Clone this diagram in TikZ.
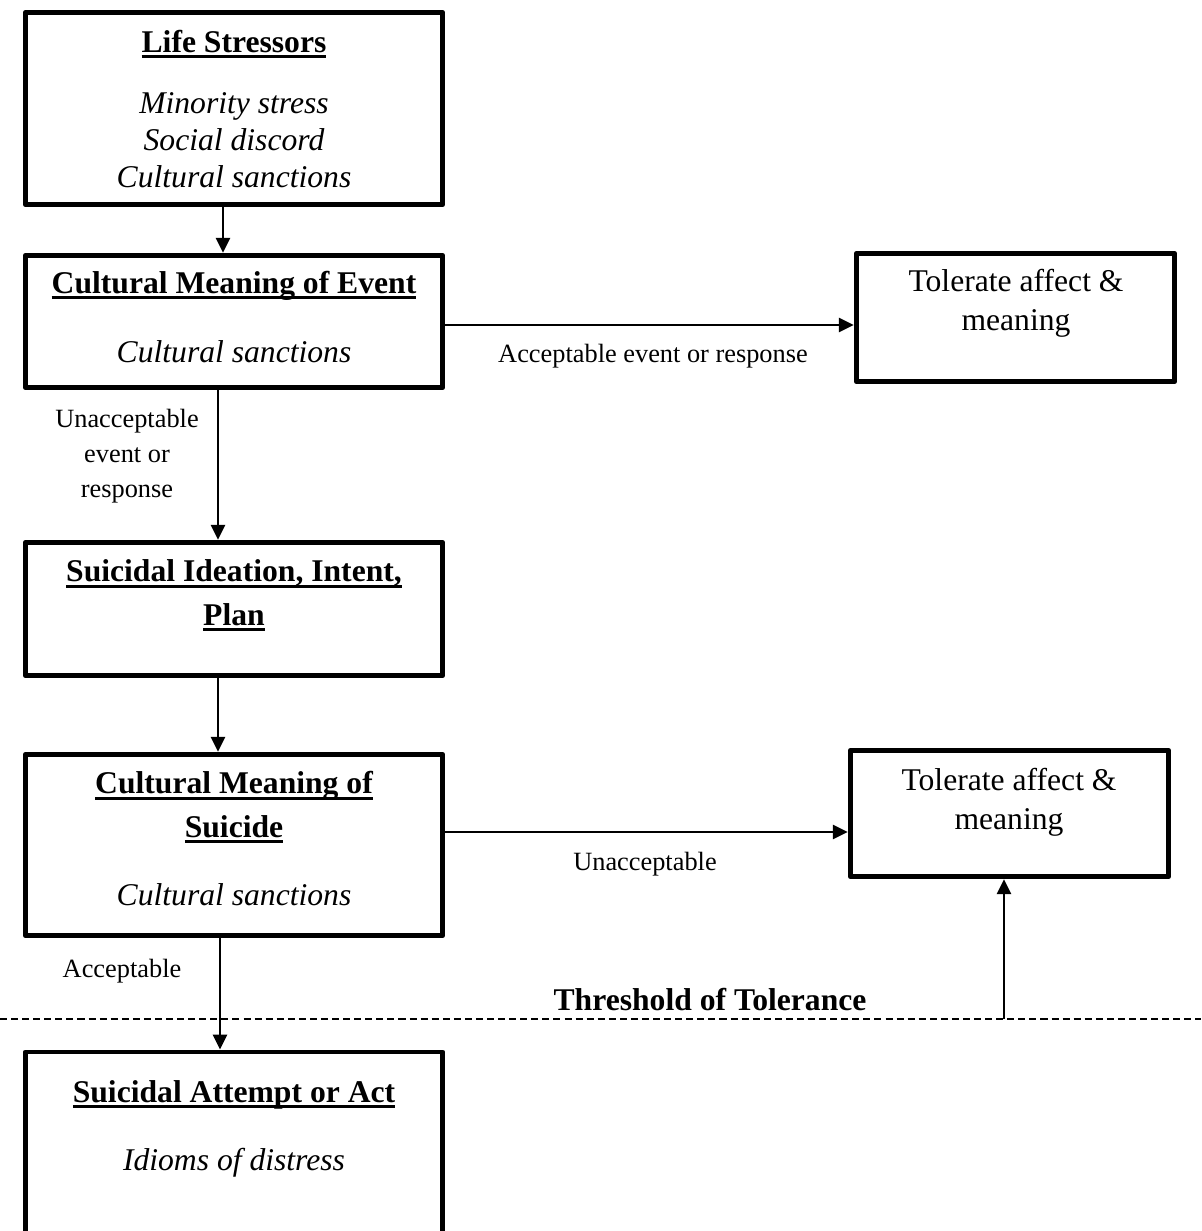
\documentclass[tikz,border=0pt]{standalone}
\usepackage{fontspec}
\setmainfont{Liberation Serif}
\usetikzlibrary{arrows.meta}

\newcommand{\ulbf}[1]{\setbox0\hbox{#1}\rlap{\rule[-3.4pt]{\wd0}{1.6pt}}\box0}

\begin{document}
\begin{tikzpicture}[x=0.02cm, y=-0.02cm]

\tikzset{box/.style = {draw, line width=2.8pt, line join=round, inner sep=0, minimum width=8.35cm}}
\tikzset{sidebox/.style = {draw, line width=2.8pt, line join=round, inner sep=0, minimum width=6.37cm}}
\tikzset{edge/.style = {->, > = {Triangle[length=8.5pt, width=8pt]}, line width=1.4pt}}
\tikzset{head/.style = {anchor=base, align=center, font=\fontsize{18}{24.7}\selectfont\bfseries}}
\tikzset{body/.style = {anchor=base, align=center, font=\fontsize{18}{21}\selectfont\itshape}}
\tikzset{plain/.style = {anchor=base, align=center, font=\fontsize{18}{22}\selectfont}}
\tikzset{note/.style = {anchor=base, align=center, font=\fontsize{15}{19.8}\selectfont}}
\tikzset{threshold/.style = {line width=1.1pt, dash pattern=on 4pt off 2.3pt}}

\useasboundingbox (0,0) rectangle (1201,1231);

% boxes
\node[box, minimum height=3.85cm] (stress) at (234,108.5) {};
\node[box, minimum height=2.65cm] (event) at (234,321.5) {};
\node[box, minimum height=2.67cm] (ideation) at (234,609) {};
\node[box, minimum height=3.63cm] (meaning) at (234,845) {};
\node[box, minimum height=3.76cm] (attempt) at (234,1146) {};
\node[sidebox, minimum height=2.57cm] (tolerate1) at (1015.5,317.5) {};
\node[sidebox, minimum height=2.53cm] (tolerate2) at (1009.5,813.5) {};

% box texts (multi-line: placed at last baseline)
\node[head] (stresshead) at (234,52) {\ulbf{Life Stressors}};
\node[body] (stressbody) at (234,187) {Minority stress\\Social discord\\Cultural sanctions};
\node[head] (eventhead) at (234,293) {\ulbf{Cultural Meaning of Event}};
\node[body] (eventbody) at (234,362) {Cultural sanctions};
\node[head] (ideationhead) at (234,625) {\ulbf{Suicidal Ideation, Intent,}\\\ulbf{Plan}};
\node[head] (meaninghead) at (234,837) {\ulbf{Cultural Meaning of}\\\ulbf{Suicide}};
\node[body] (meaningbody) at (234,905) {Cultural sanctions};
\node[head] (attempthead) at (234,1102) {\ulbf{Suicidal Attempt or Act}};
\node[body] (attemptbody) at (234,1170) {Idioms of distress};
\node[plain] (tolerate1text) at (1016,330) {Tolerate affect \&\\meaning};
\node[plain] (tolerate2text) at (1009,829) {Tolerate affect \&\\meaning};

% threshold
\coordinate (lineleft) at (0,1019);
\coordinate (lineright) at (1201,1019);
\coordinate (cut) at (1004,1019);
\draw[threshold] (lineleft) -- (lineright);
\node[head] (tolerance) at (710,1010) {Threshold of Tolerance};

% edges
\draw[edge] ([xshift=-0.22cm]stress.south) -- ([xshift=-0.22cm]event.north);
\draw[edge] ([yshift=-0.07cm]event.east) -- ([yshift=-0.07cm]event.east -| tolerate1.west);
\draw[edge] ([xshift=-0.32cm]event.south) -- ([xshift=-0.32cm]ideation.north);
\draw[edge] ([xshift=-0.32cm]ideation.south) -- ([xshift=-0.32cm]meaning.north);
\draw[edge] ([yshift=0.26cm]meaning.east) -- ([yshift=0.26cm]meaning.east -| tolerate2.west);
\draw[edge] ([xshift=-0.28cm]meaning.south) -- ([xshift=-0.28cm]attempt.north);
\draw[edge] (cut) -- (cut |- tolerate2.south);

% edge labels
\node[note] (yes1) at (653,362) {Acceptable event or response};
\node[note] (no1) at (127,497) {Unacceptable\\event or\\response};
\node[note] (no2) at (645,870) {Unacceptable};
\node[note] (yes2) at (122,977) {Acceptable};

\end{tikzpicture}
\end{document}
